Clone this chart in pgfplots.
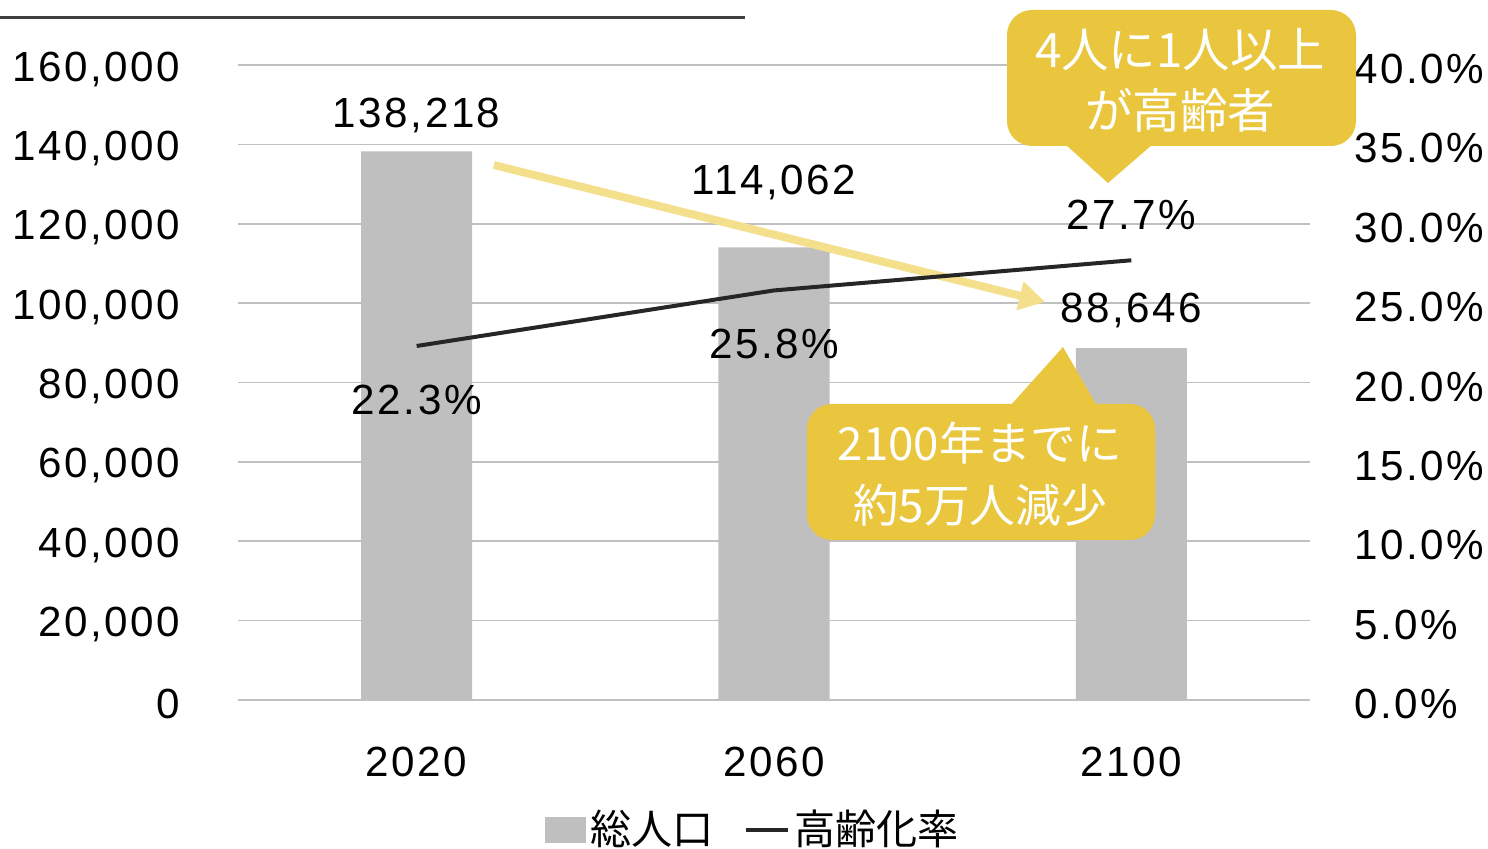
\documentclass[border=0pt]{standalone}
\usepackage{pgfplots}
\usepackage{pgfplotstable}
\pgfplotsset{compat=1.18}
\usepackage{fontspec}
\usetikzlibrary{arrows.meta}
\setmainfont{Liberation Sans}[LetterSpace=6]
\newfontfamily\jp{Noto Sans CJK JP}
\definecolor{barcol}{HTML}{BFBFBF}
\definecolor{gridcol}{HTML}{C0C0C0}
\definecolor{linecol}{HTML}{262626}
\definecolor{callout}{HTML}{E9C63D}
\definecolor{arrowcol}{HTML}{F3DF8C}
\definecolor{rulecol}{HTML}{404040}
\pgfplotsset{/pgf/number format/assume math mode=true, /pgf/number format/fixed, /pgf/number format/1000 sep={,}}
\newcommand\numfont{\fontsize{12}{14}\selectfont}
\pgfplotstableread{
x y dy
0 138218 3.6
1 114062 6.5
2 88646 3.8
}\popdata
\pgfplotstableread{
x y dy
0 22.3 -5.4
1 25.8 -5.4
2 27.7 4.5
}\ratedata
\begin{document}
\begin{tikzpicture}
\path[use as bounding box] (0,0) rectangle (148.8mm,-84.9mm);
\draw[rulecol, line width=0.3mm] (0,-1.8mm) -- (74.5mm,-1.8mm);
\begin{axis}[
  at={(23.8mm,-70mm)}, anchor=south west,
  width=107.2mm, height=63.5mm, scale only axis,
  xmin=-0.5, xmax=2.5, ymin=0, ymax=160000,
  xtick={0,1,2}, xticklabels={2020,2060,2100},
  ytick={0,20000,...,160000},
  scaled y ticks=false,
  yticklabel={\pgfmathprintnumber[fixed,precision=0]{\tick}},
  axis x line*=bottom, axis y line*=left,
  axis line style={draw=none}, major tick length=0pt,
  ymajorgrids, grid style={gridcol, line width=0.15mm},
  tick label style={font=\numfont, inner sep=0pt},
  yticklabel style={anchor=east, xshift=-5.7mm, yshift=-0.4mm},
  xticklabel style={anchor=north, yshift=-4.6mm},
  clip=false,
]
\addplot[ybar, bar width=0.311, fill=barcol, draw=none,
  visualization depends on={\thisrow{dy} \as \dy},
  nodes near coords={\pgfmathprintnumber[fixed,precision=0]{\pgfplotspointmeta}},
  every node near coord/.append style={anchor=center, yshift=\dy mm, font=\numfont, text=black, inner sep=0pt},
  point meta=y] table[x=x,y=y]{\popdata};
\draw[arrowcol, line width=0.8mm, -{Triangle[length=2.6mm,width=2.8mm]}] (axis cs:0.216,134800) -- (axis cs:1.759,100283);
\end{axis}
\begin{axis}[
  at={(23.8mm,-70mm)}, anchor=south west,
  width=107.2mm, height=63.5mm, scale only axis,
  xmin=-0.5, xmax=2.5, ymin=0, ymax=40,
  axis x line=none, axis y line*=right,
  axis line style={draw=none}, major tick length=0pt,
  ytick={0,5,...,40},
  yticklabel={\pgfmathprintnumber[fixed,fixed zerofill,precision=1]{\tick}\%},
  yticklabel style={font=\numfont, inner sep=0pt, anchor=west, xshift=4.4mm, yshift=-0.4mm},
  clip=false,
  legend style={at={(0.481,-0.205)}, anchor=center, draw=none, fill=none,
    legend columns=2, font=\jp\fontsize{11.7}{13}\selectfont,
    /tikz/every even column/.append style={column sep=2.6mm},
    nodes={inner xsep=0.4mm}},
  legend cell align=left,
]
\addlegendimage{legend image code/.code={\fill[barcol] (0mm,-1.2mm) rectangle (4.0mm,1.2mm);}}
\addlegendentry{総人口}
\addlegendimage{legend image code/.code={\draw[linecol, line width=0.45mm] (0mm,0mm) -- (4.2mm,0mm);}}
\addlegendentry{高齢化率}
\addplot[linecol, line width=0.4mm, mark=none, forget plot,
  visualization depends on={\thisrow{dy} \as \dy},
  nodes near coords={\pgfmathprintnumber[fixed,fixed zerofill,precision=1]{\pgfplotspointmeta}\%},
  every node near coord/.append style={anchor=center, yshift=\dy mm, font=\numfont, text=black, inner sep=0pt},
  point meta=y] table[x=x,y=y]{\ratedata};
\end{axis}
% callout 1
\fill[callout, rounded corners=2.5mm] (100.7mm,-1.0mm) rectangle (135.6mm,-14.6mm);
\fill[callout] (106.5mm,-14.4mm) -- (115.3mm,-14.4mm) -- (110.8mm,-18.3mm) -- cycle;
\node[white, font=\jp\fontsize{13.5}{15}\selectfont] at (118.0mm,-5.0mm) {4人に1人以上};
\node[white, font=\jp\fontsize{13.5}{15}\selectfont] at (118.0mm,-11.0mm) {が高齢者};
% callout 2
\fill[callout, rounded corners=2.5mm] (80.7mm,-40.4mm) rectangle (115.5mm,-54.0mm);
\fill[callout] (101.0mm,-40.6mm) -- (109.7mm,-40.6mm) -- (106.3mm,-34.7mm) -- cycle;
\node[white, font=\jp\fontsize{13}{15}\selectfont] at (98.0mm,-44.3mm) {2100年までに};
\node[white, font=\jp\fontsize{13}{15}\selectfont] at (98.0mm,-50.5mm) {約5万人減少};
\end{tikzpicture}
\end{document}
